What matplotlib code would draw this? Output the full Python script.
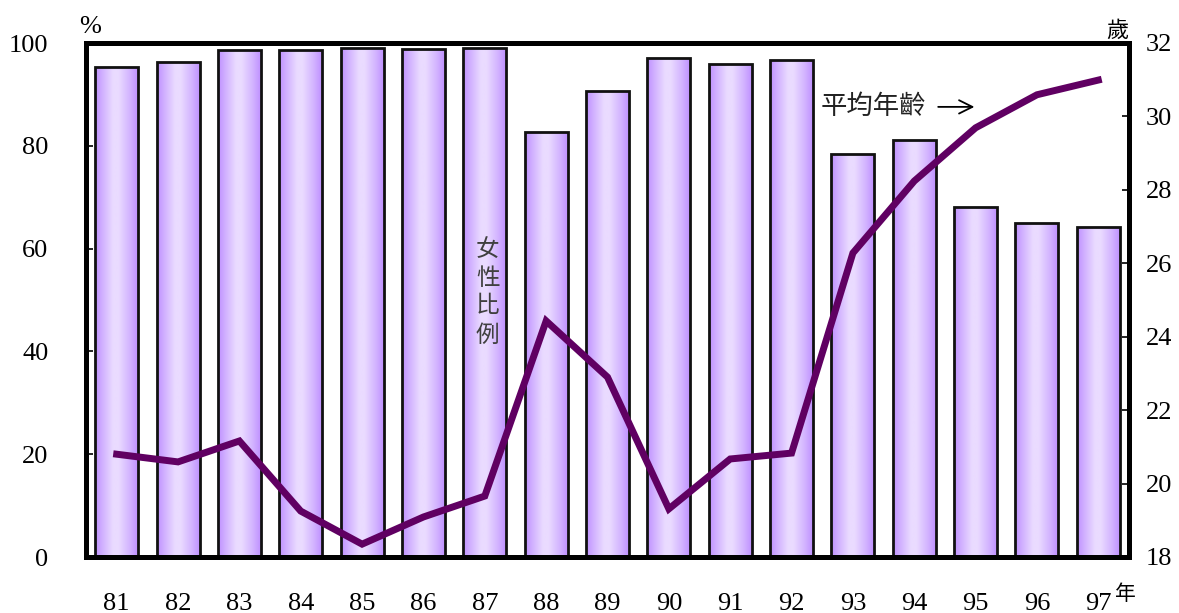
import matplotlib
matplotlib.use('Agg')
import matplotlib.pyplot as plt
import numpy as np
from matplotlib.colors import LinearSegmentedColormap

years = ['81', '82', '83', '84', '85', '86', '87', '88', '89',
         '90', '91', '92', '93', '94', '95', '96', '97']
female_pct = [95.3, 96.3, 98.6, 98.6, 99.0, 98.8, 99.0, 82.7, 90.7,
              97.1, 95.9, 96.7, 78.4, 81.1, 68.1, 65.0, 64.2]
avg_age = [20.8, 20.59, 21.16, 19.25, 18.35, 19.09, 19.66, 24.43, 22.90,
           19.31, 20.67, 20.83, 26.28, 28.24, 29.69, 30.59, 30.99]

num_font = 'Liberation Serif'
cjk = ['Noto Sans CJK TC', 'DejaVu Sans']

fig = plt.figure(figsize=(11.79, 6.13), dpi=100)
ax = fig.add_axes([86 / 1179, 1 - 557 / 613, (1129 - 86) / 1179, (557 - 43) / 613])
ax2 = ax.twinx()

x = np.arange(len(years))
bars = ax.bar(x, female_pct, width=0.7, color='none', edgecolor='#111111',
              linewidth=2.0, zorder=3)

# gradient fill for every bar
cmap = LinearSegmentedColormap.from_list(
    'bar', [(0, '#bf90ff'), (0.18, '#d2b2ff'), (0.42, '#eadbff'),
            (0.55, '#eadbff'), (0.82, '#d2b2ff'), (1, '#bf90ff')])
grad = np.linspace(0, 1, 256).reshape(1, -1)
for b in bars:
    bx, by = b.get_x(), b.get_y()
    w, h = b.get_width(), b.get_height()
    im = ax.imshow(grad, cmap=cmap, aspect='auto', extent=(bx, bx + w, by, by + h),
                   zorder=2, interpolation='bilinear')
    im.set_clip_path(b)

ax.set_xlim(-0.5, len(years) - 0.5)
ax.set_ylim(0, 100)
ax.set_yticks([0, 20, 40, 60, 80, 100])
ax2.set_ylim(18, 32)
ax2.set_yticks([18, 20, 22, 24, 26, 28, 30, 32])

ax2.plot(x, avg_age, color='#600062', linewidth=5, solid_joinstyle='miter', zorder=5)

for a in (ax, ax2):
    for s in a.spines.values():
        s.set_linewidth(3.6)
        s.set_color('black')
    a.tick_params(direction='in', length=5, width=1.2)

ax.set_xticks(x)
ax.set_xticklabels(years)
ax.tick_params(axis='x', length=0, pad=26)
ax.tick_params(axis='y', pad=27)
ax2.tick_params(axis='y', pad=12)
for lab in ax.get_xticklabels() + ax.get_yticklabels() + ax2.get_yticklabels():
    lab.set_fontfamily(num_font)
    lab.set_fontsize(19)

fig.text(90 / 1179, 1 - 27 / 613, '%', family=num_font, fontsize=19, ha='center', va='center')
fig.text(1117 / 1179, 1 - 30 / 613, '歲', family=cjk, fontsize=16, ha='center', va='center')
fig.text(1125 / 1179, 1 - 594 / 613, '年', family=cjk, fontsize=15, ha='center', va='center')

ax.text(6.05, 62, '女\n性\n比\n例', family=cjk, fontsize=17, color='#404040',
        ha='center', va='top', linespacing=1.3, zorder=6)
ax2.text(12.33, 30.26, '平均年齡', family=cjk, fontsize=19, style='italic',
         ha='center', va='center', color='#222222', zorder=6)
ax2.annotate('', xy=(13.98, 30.26), xytext=(13.39, 30.26),
             arrowprops=dict(arrowstyle='->', color='black', lw=1.3, mutation_scale=24,
                             shrinkA=0, shrinkB=0), zorder=6)

fig.savefig('out.png', dpi=100)
